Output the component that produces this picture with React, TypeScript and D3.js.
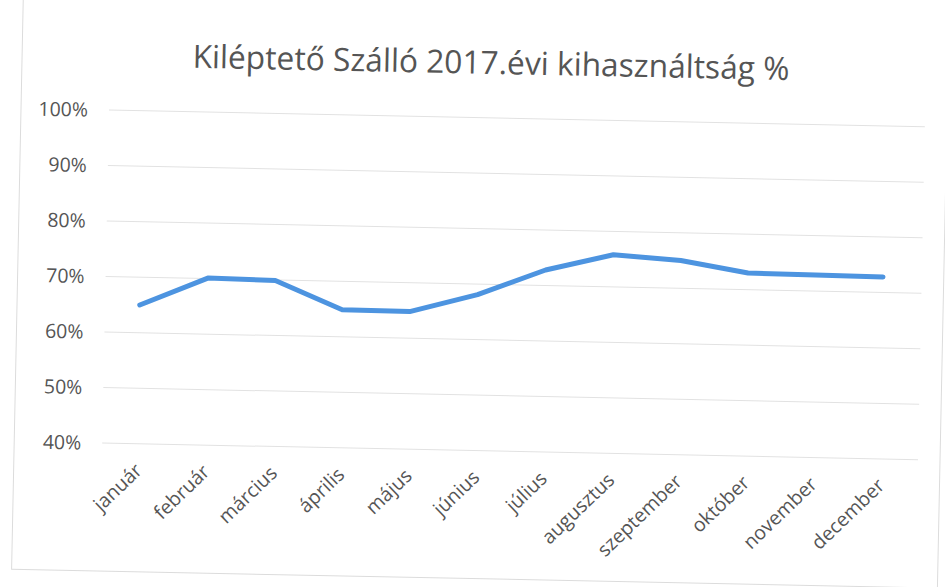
import React from "react";
import * as d3 from "d3";

const title = "Kiléptető Szálló 2017.évi kihasználtság %";
const months = [
  "január", "február", "március", "április", "május", "június",
  "július", "augusztus", "szeptember", "október", "november", "december",
];
const occupancy = [0.65, 0.701, 0.699, 0.649, 0.648, 0.681, 0.728, 0.758, 0.75, 0.73, 0.729, 0.728];
const yTicks = [0.4, 0.5, 0.6, 0.7, 0.8, 0.9, 1.0];

const W = 945;
const H = 587;
const FONT = "'Open Sans', 'Noto Sans', sans-serif";
const TEXT = "#555555";

export default function App() {
  const x = d3.scalePoint<string>().domain(months).range([110, 920]).padding(0.5);
  const y = d3.scaleLinear().domain([0.4, 1.0]).range([443, 110]);
  const line = d3
    .line<number>()
    .x((_, i) => x(months[i]) as number)
    .y((d) => y(d));
  const fmt = d3.format(".0%");

  return (
    <svg
      width={W}
      height={H}
      style={{ position: "fixed", left: 0, top: 0, display: "block", background: "#ffffff" }}
    >
      <rect x={0} y={0} width={W} height={H} fill="#ffffff" />
      <g transform="rotate(1.17, 105, 110)">
        <rect x={21} y={-20} width={926} height={591} fill="none" stroke="#dcdcdc" strokeWidth={1} />
        <text
          x={490}
          y={66}
          textAnchor="middle"
          fontFamily={FONT}
          fontSize={32}
          fill={TEXT}
          textLength={597}
          lengthAdjust="spacingAndGlyphs"
        >
          {title}
        </text>
        {yTicks.map((t) => (
          <g key={t}>
            <line x1={109} x2={925} y1={y(t)} y2={y(t)} stroke="#e2e2e2" strokeWidth={1} />
            <text
              x={88}
              y={y(t)}
              dy="0.36em"
              textAnchor="end"
              fontFamily={FONT}
              fontSize={19.5}
              fill={TEXT}
            >
              {fmt(t)}
            </text>
          </g>
        ))}
        {months.map((m) => (
          <text
            key={m}
            transform={`translate(${(x(m) as number) + 7}, 471) rotate(-45)`}
            textAnchor="end"
            fontFamily={FONT}
            fontSize={19.5}
            fill={TEXT}
          >
            {m}
          </text>
        ))}
        <path
          d={line(occupancy) || ""}
          fill="none"
          stroke="#4d94e0"
          strokeWidth={5}
          strokeLinejoin="round"
          strokeLinecap="round"
        />
      </g>
    </svg>
  );
}
